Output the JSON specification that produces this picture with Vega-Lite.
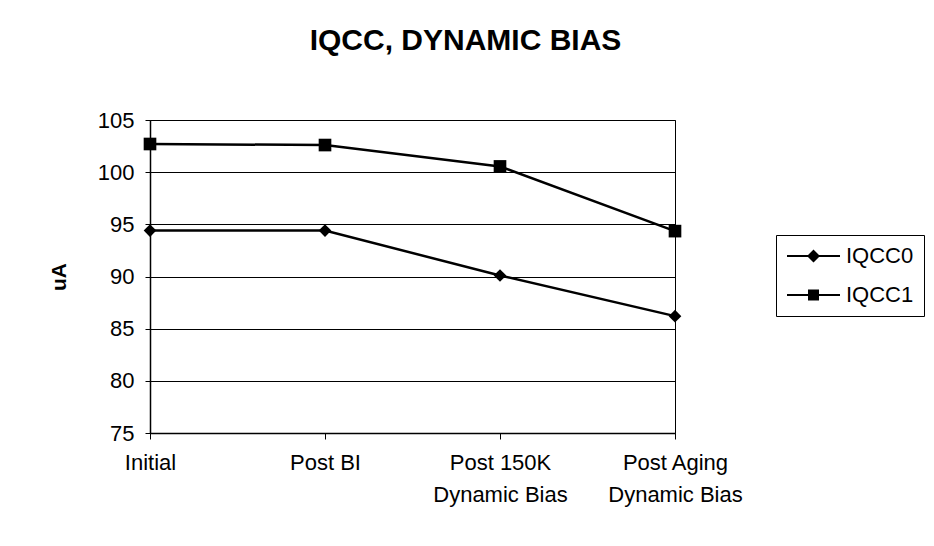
{
  "$schema": "https://vega.github.io/schema/vega-lite/v6.json",
  "autosize": "none",
  "width": 525,
  "height": 313,
  "padding": {"left": 150, "top": 120, "right": 259, "bottom": 113},
  "background": "white",
  "title": {
    "text": "IQCC, DYNAMIC BIAS",
    "font": "Liberation Sans",
    "fontSize": 30,
    "fontWeight": "bold",
    "color": "black",
    "anchor": "middle",
    "frame": "group",
    "dx": 53,
    "offset": 53
  },
  "data": {
    "values": [
      {"stage": "Initial", "series": "IQCC0", "value": 94.4},
      {"stage": "Post BI", "series": "IQCC0", "value": 94.4},
      {"stage": "Post 150K Dynamic Bias", "series": "IQCC0", "value": 90.1},
      {"stage": "Post Aging Dynamic Bias", "series": "IQCC0", "value": 86.2},
      {"stage": "Initial", "series": "IQCC1", "value": 102.7},
      {"stage": "Post BI", "series": "IQCC1", "value": 102.6},
      {"stage": "Post 150K Dynamic Bias", "series": "IQCC1", "value": 100.55},
      {"stage": "Post Aging Dynamic Bias", "series": "IQCC1", "value": 94.35}
    ]
  },
  "encoding": {
    "x": {
      "field": "stage",
      "type": "nominal",
      "sort": null,
      "scale": {"type": "point", "padding": 0},
      "axis": {
        "title": null,
        "labelAngle": 0,
        "labelFont": "Liberation Sans",
        "labelFontSize": 22,
        "labelColor": "black",
        "labelPadding": 13,
        "labelLineHeight": 32,
        "labelBaseline": "top",
        "labelExpr": "indexof(datum.label, ' Dynamic Bias') > 0 ? [replace(datum.label, ' Dynamic Bias', ''), 'Dynamic Bias'] : datum.label",
        "domainColor": "black",
        "tickColor": "black",
        "tickSize": 6,
        "grid": false
      }
    },
    "y": {
      "field": "value",
      "type": "quantitative",
      "scale": {"domain": [75, 105], "nice": false, "zero": false},
      "axis": {
        "title": "uA",
        "titleFont": "Liberation Sans",
        "titleFontSize": 21,
        "titleFontWeight": "bold",
        "titleColor": "black",
        "titlePadding": 28,
        "values": [75, 80, 85, 90, 95, 100, 105],
        "labelFont": "Liberation Sans",
        "labelFontSize": 22,
        "labelColor": "black",
        "labelPadding": 11,
        "domainColor": "black",
        "tickColor": "black",
        "tickSize": 5,
        "grid": true,
        "gridColor": "black",
        "gridOpacity": 1,
        "gridWidth": 1
      }
    }
  },
  "layer": [
    {
      "mark": {"type": "line", "color": "black", "strokeWidth": 2.5},
      "encoding": {"detail": {"field": "series"}}
    },
    {
      "mark": {"type": "point", "filled": true, "color": "black", "opacity": 1, "size": 160},
      "encoding": {
        "shape": {
          "field": "series",
          "type": "nominal",
          "scale": {"domain": ["IQCC0", "IQCC1"], "range": ["diamond", "square"]},
          "legend": null
        }
      }
    },
    {
      "transform": [{"filter": "false"}],
      "mark": {"type": "point", "filled": true, "color": "black", "opacity": 1},
      "encoding": {
        "shape": {
          "field": "series",
          "type": "nominal",
          "scale": {
            "domain": ["IQCC0", "IQCC1"],
            "range": [
              "M-1,-0.1H4.3V0.1H-1Z M1.65,-0.65L2.3,0L1.65,0.65L1,0Z",
              "M-1,-0.1H4.3V0.1H-1Z M1.1,-0.55H2.2V0.55H1.1Z"
            ]
          },
          "legend": {
            "title": null,
            "orient": "none",
            "legendX": 626,
            "legendY": 115,
            "strokeColor": "black",
            "padding": 10,
            "symbolSize": 400,
            "symbolFillColor": "black",
            "symbolStrokeWidth": 0,
            "symbolOpacity": 1,
            "labelFont": "Liberation Sans",
            "labelFontSize": 22,
            "labelColor": "black",
            "labelOffset": 38,
            "rowPadding": 17
          }
        }
      }
    }
  ],
  "resolve": {"scale": {"shape": "independent"}, "legend": {"shape": "independent"}},
  "config": {
    "view": {"stroke": "black", "strokeWidth": 1},
    "axis": {"domainWidth": 1.5, "tickWidth": 1}
  }
}
